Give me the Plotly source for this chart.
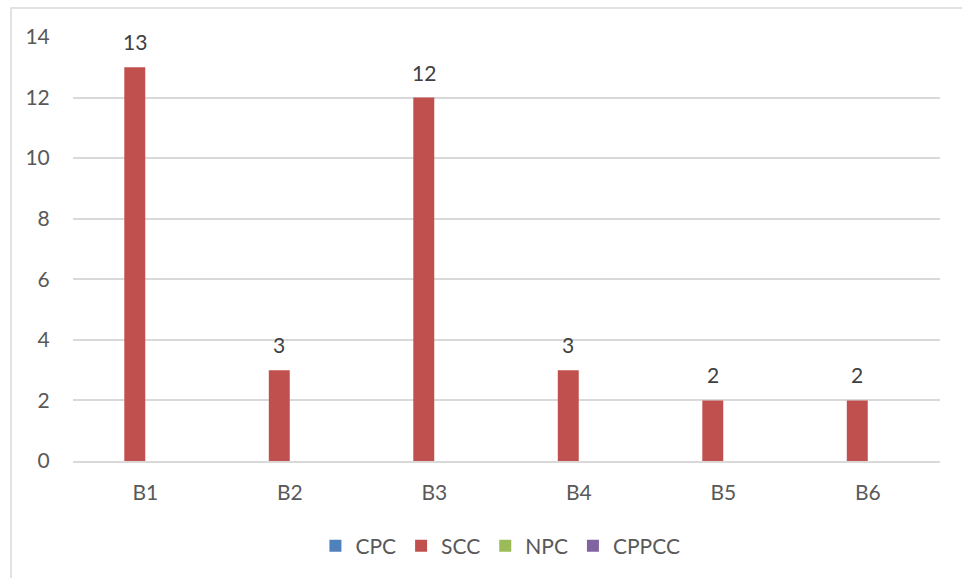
import plotly.graph_objects as go

# Chart data
categories = ["B1", "B2", "B3", "B4", "B5", "B6"]
series_names = ["CPC", "SCC", "NPC", "CPPCC"]
cpc = [0, 0, 0, 0, 0, 0]
scc = [13, 3, 12, 3, 2, 2]
npc = [0, 0, 0, 0, 0, 0]
cppcc = [0, 0, 0, 0, 0, 0]
y_ticks = [0, 2, 4, 6, 8, 10, 12, 14]

colors = ["#4F81BD", "#C0504D", "#9BBB59", "#8064A2"]
values = [cpc, scc, npc, cppcc]

W, H = 962, 578
L, R, T, B = 73, 22, 37, 117
pw, ph = W - L - R, H - T - B
FONT = "Lato"
FS = 21
BARGAP = 0.42

fig = go.Figure()
for name, vals, col in zip(series_names, values, colors):
    fig.add_trace(go.Bar(
        x=categories, y=vals, name=name,
        marker=dict(color=col, line=dict(width=0)),
        offsetgroup=name,
    ))

# value labels above the SCC bars (second of four in each group)
n = len(series_names)
for i, (cat, v) in enumerate(zip(categories, scc)):
    fig.add_annotation(
        x=i, y=v, xref="x", yref="y", text=str(v), showarrow=False,
        xanchor="center", yanchor="bottom", yshift=11,
        xshift=-0.5 * (pw / len(categories)) * (1 - BARGAP) / n,
        font=dict(size=FS, color="#404040", family=FONT),
    )

def px_x(p):
    return (p - L) / pw

def px_y(p):
    return (H - B - p) / ph

# outer chart-area border
fig.add_shape(type="rect", xref="paper", yref="paper",
              x0=px_x(11), x1=px_x(975), y0=px_y(8), y1=px_y(590),
              line=dict(color="#D9D9D9", width=1.5), fillcolor="rgba(0,0,0,0)",
              layer="below")

fig.update_layout(
    width=W, height=H,
    margin=dict(l=L, r=R, t=T, b=B),
    paper_bgcolor="white", plot_bgcolor="white",
    barmode="group", bargap=BARGAP, bargroupgap=0,
    font=dict(family=FONT, size=FS, color="#595959"),
    showlegend=True,
    legend=dict(orientation="h", x=0.493, xanchor="center", y=px_y(546), yanchor="middle",
                font=dict(size=FS, color="#595959"), itemwidth=30, tracegroupgap=0),
    xaxis=dict(showgrid=False, showline=True, linecolor="#D9D9D9", linewidth=1.5,
               ticks="outside", ticklen=12, tickcolor="rgba(0,0,0,0)",
               tickfont=dict(size=FS, color="#595959")),
    yaxis=dict(range=[0, 14], tickvals=y_ticks, showgrid=True, gridcolor="#D9D9D9",
               gridwidth=1.5, zeroline=False, showline=False,
               ticks="outside", ticklen=18, tickcolor="rgba(0,0,0,0)",
               tickfont=dict(size=FS, color="#595959")),
)

fig.write_html("out.html")
